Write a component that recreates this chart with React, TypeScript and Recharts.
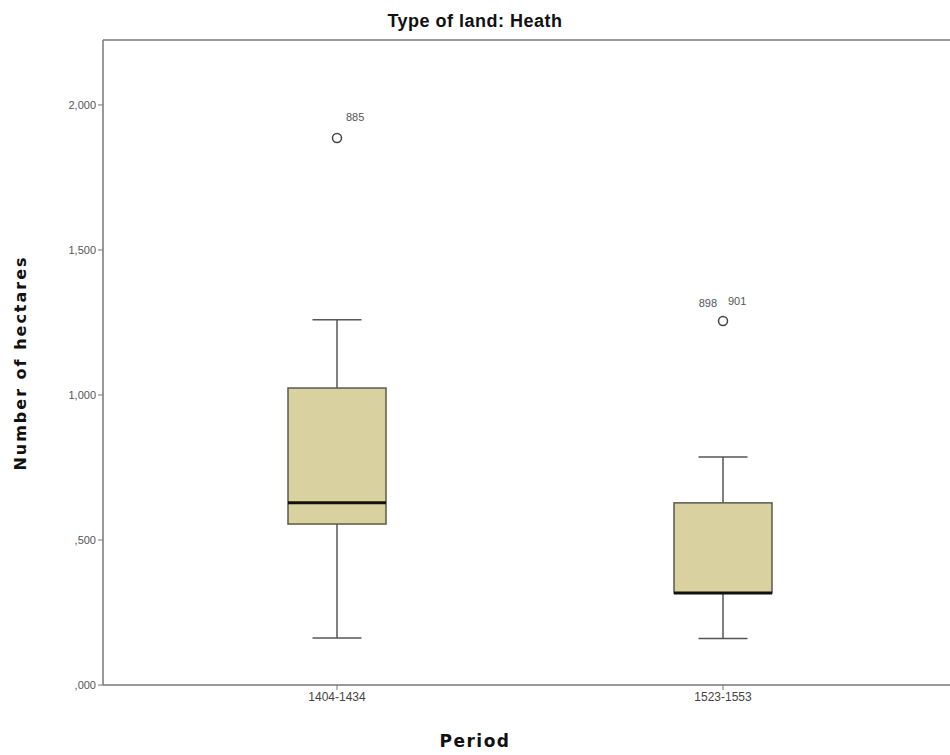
import React from 'react';
import { ComposedChart, Bar, Scatter, XAxis, YAxis, ReferenceLine } from 'recharts';

const periods = ['1404-1434', '1523-1553'];
const whiskerLow = [162, 160];
const q1 = [555, 317];
const median = [628, 317];
const q3 = [1024, 628];
const whiskerHigh = [1259, 786];
const outlierValue = [1886, 1255];
const outlierLabels = [['885'], ['898', '901']];
const yTicks = [0, 500, 1000, 1500, 2000];
const Y_MAX = 2224;

const data = periods.map((p, i) => ({
  period: p,
  range: [whiskerLow[i], whiskerHigh[i]],
  lo: whiskerLow[i],
  hi: whiskerHigh[i],
  q1: q1[i],
  med: median[i],
  q3: q3[i],
  out: outlierValue[i],
  labels: outlierLabels[i],
}));

const fmtY = (v: number) => {
  if (v < 1000) return ',' + String(v).padStart(3, '0');
  const th = Math.floor(v / 1000);
  const rest = v % 1000;
  return th + ',' + String(rest).padStart(3, '0');
};

const BoxShape = (props: any) => {
  const { x, y, width, height, payload } = props;
  const top = Math.min(y, y + height);
  const bottom = Math.max(y, y + height);
  const { lo, hi } = payload;
  const py = (v: number) => top + ((hi - v) / (hi - lo)) * (bottom - top);
  const cx = x + width / 2;
  const capHalf = width / 4;
  const stroke = '#555';
  return (
    <g>
      <line x1={cx} x2={cx} y1={py(hi)} y2={py(payload.q3)} stroke={stroke} strokeWidth={1.5} />
      <line x1={cx} x2={cx} y1={py(payload.q1)} y2={py(lo)} stroke={stroke} strokeWidth={1.5} />
      <line x1={cx - capHalf} x2={cx + capHalf} y1={py(hi)} y2={py(hi)} stroke={stroke} strokeWidth={1.5} />
      <line x1={cx - capHalf} x2={cx + capHalf} y1={py(lo)} y2={py(lo)} stroke={stroke} strokeWidth={1.5} />
      <rect x={x} y={py(payload.q3)} width={width} height={py(payload.q1) - py(payload.q3)} fill="#DAD1A1" stroke="#5a5a4a" strokeWidth={1.5} />
      <line x1={x} x2={x + width} y1={py(payload.med)} y2={py(payload.med)} stroke="#111" strokeWidth={3} />
    </g>
  );
};

const labelFont = 'Liberation Sans, Arial, sans-serif';

const OutlierShape = (props: any) => {
  const { cx, cy, payload } = props;
  const labels: string[] = payload.labels || [];
  return (
    <g>
      <circle cx={cx} cy={cy} r={4.5} fill="#fff" stroke="#444" strokeWidth={1.5} />
      {labels.length === 1 && (
        <text x={cx + 9} y={cy - 17} fontSize={11} fill="#555" stroke="none" fontFamily={labelFont}>{labels[0]}</text>
      )}
      {labels.length === 2 && (
        <g>
          <text x={cx - 6} y={cy - 14} fontSize={11} fill="#555" stroke="none" textAnchor="end" fontFamily={labelFont}>{labels[0]}</text>
          <text x={cx + 5} y={cy - 16} fontSize={11} fill="#555" stroke="none" fontFamily={labelFont}>{labels[1]}</text>
        </g>
      )}
    </g>
  );
};

export default function App() {
  return (
    <div style={{ position: 'absolute', left: 0, top: 0, width: 950, height: 755, overflow: 'hidden', background: '#fff' }}>
      <div style={{ position: 'absolute', left: 0, top: 11, width: 950, textAlign: 'center', fontFamily: '"Liberation Sans", Arial, sans-serif', fontWeight: 'bold', fontSize: 18, letterSpacing: 0.5, color: '#111' }}>
        Type of land: Heath
      </div>
      <div style={{ position: 'absolute', left: 0, top: 731, width: 950, textAlign: 'center', fontFamily: '"DejaVu Sans", sans-serif', fontWeight: 'bold', fontSize: 17, letterSpacing: 1.5, color: '#111' }}>
        Period
      </div>
      <div style={{ position: 'absolute', left: 20, top: 363, transform: 'translate(-50%, -50%) rotate(-90deg)', whiteSpace: 'nowrap', fontFamily: '"DejaVu Sans", sans-serif', fontWeight: 'bold', fontSize: 16, letterSpacing: 2, color: '#111' }}>
        Number of hectares
      </div>
      <div style={{ position: 'absolute', left: 0, top: 0 }}>
        <ComposedChart width={1000} height={755} data={data} margin={{ top: 40, right: 43, bottom: 0, left: 0 }}>
          <XAxis
            dataKey="period"
            type="category"
            padding={{ left: 41, right: 41 }}
            axisLine={{ stroke: '#777', strokeWidth: 1.5 }}
            tickLine={{ stroke: '#777' }}
            tickSize={5}
            tick={{ fontSize: 12, fill: '#444', fontFamily: labelFont }}
            height={70}
          />
          <YAxis
            type="number"
            domain={[0, Y_MAX]}
            ticks={yTicks}
            tickFormatter={fmtY}
            width={103}
            axisLine={{ stroke: '#777', strokeWidth: 1.5 }}
            tickLine={{ stroke: '#777' }}
            tickSize={5}
            tick={{ fontSize: 11, fill: '#555', fontFamily: labelFont }}
            allowDataOverflow
          />
          <ReferenceLine y={Y_MAX} stroke="#777" strokeWidth={1.5} ifOverflow="visible" />
          <Bar dataKey="range" barSize={98} shape={<BoxShape />} isAnimationActive={false} />
          <Scatter dataKey="out" shape={<OutlierShape />} isAnimationActive={false} />
        </ComposedChart>
      </div>
    </div>
  );
}
